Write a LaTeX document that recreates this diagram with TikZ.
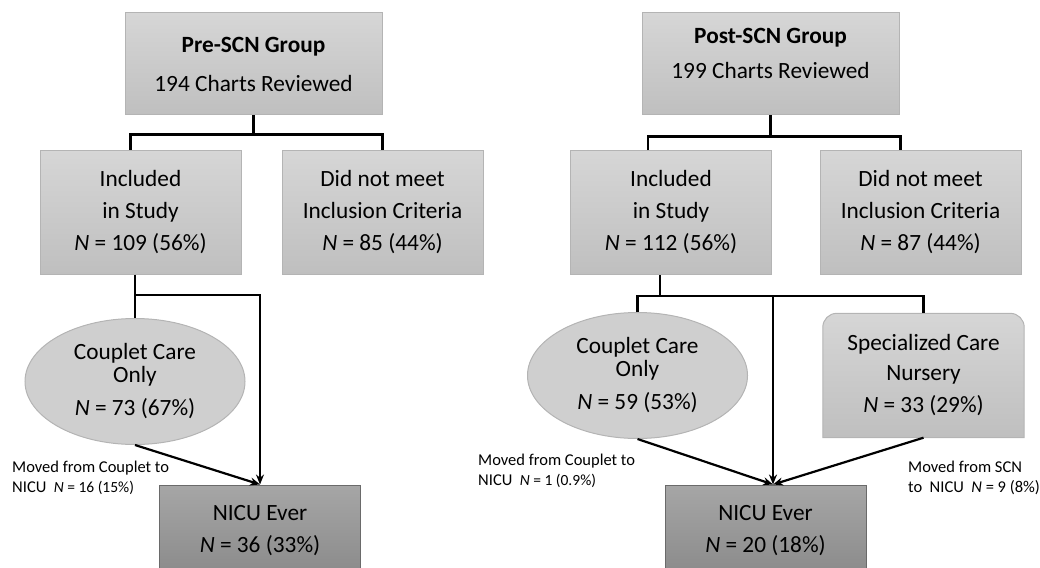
\documentclass[tikz,border=0pt]{standalone}
\usepackage{fontspec}
\setmainfont{Carlito}
\usetikzlibrary{arrows.meta,shapes.geometric,backgrounds}

\definecolor{boxtop}{HTML}{D6D6D6}
\definecolor{boxbot}{HTML}{BFBFBF}
\definecolor{boxline}{HTML}{B4B4B4}
\definecolor{ovalfill}{HTML}{CFCFCF}
\definecolor{nicutop}{HTML}{A6A6A6}
\definecolor{nicubot}{HTML}{8A8A8A}
\definecolor{niculine}{HTML}{6A6A6A}

\tikzset{
  plain/.style={rectangle, minimum width=201pt, minimum height=124pt, align=center,
    inner sep=0pt, font=\fontsize{23.3}{32}\selectfont},
  box/.style={plain, draw=boxline, line width=1pt, top color=boxtop, bottom color=boxbot},
  headbox/.style={box, minimum width=257pt, minimum height=102pt},
  nicubox/.style={box, draw=niculine, top color=nicutop, bottom color=nicubot, minimum height=92pt},
  careoval/.style={ellipse, draw=boxline, line width=1pt, fill=ovalfill, minimum width=220pt,
    minimum height=126pt, align=center, inner sep=0pt, font=\fontsize{23.3}{32}\selectfont},
  link/.style={line width=2.2pt, black},
  arrow/.style={link, -{Stealth[length=10pt, width=8pt]}},
  note/.style={anchor=west, align=left, inner sep=0pt, font=\fontsize{16.5}{20}\selectfont}
}

\begin{document}
\begin{tikzpicture}[x=1pt, y=-1pt]
\useasboundingbox (0,0) rectangle (1040,567);

% pre-SCN side
\node[headbox] (pre) at (253.5,64) {\textbf{Pre-SCN Group}\\[7pt]194 Charts Reviewed};
\node[box] (preinc) at (140.5,212) {Included\\in Study\\\textit{N} = 109 (56\%)};
\node[box] (preexc) at (382.5,212) {Did not meet\\Inclusion Criteria\\\textit{N} = 85 (44\%)};
\node[careoval] (precc) at (135,381.5) {Couplet Care\\[-9pt]Only\\[1pt]\textit{N} = 73 (67\%)};
\node[nicubox] (prenicu) at (260,531) {NICU Ever\\\textit{N} = 36 (33\%)};
\node[note] (premove) at (12,478) {Moved from Couplet to\\NICU \ {\fontsize{15.5}{20}\selectfont\textit{N} = 16 (15\%)}};

\draw[link] (pre.south) -- ++(0,19) coordinate (prefork);
\draw[link] ([xshift=-10pt]preinc.north) |- (prefork) -| (preexc.north);
\coordinate (prebar) at (0,295);
\draw[link] (precc.north |- preinc.south) -- (precc.north);
\draw[arrow] (precc.north |- prebar) -| (prenicu.north);
\draw[arrow] (precc.south) -- (prenicu.north);

% post-SCN side
\node[headbox, text depth=22pt] (post) at (770.5,64) {\textbf{Post-SCN Group}\\[3pt]199 Charts Reviewed};
\node[box] (postinc) at (671,212.5) {Included\\in Study\\\textit{N} = 112 (56\%)};
\node[box] (postexc) at (920.5,212.5) {Did not meet\\Inclusion Criteria\\\textit{N} = 87 (44\%)};
\node[careoval] (postcc) at (637.5,375.5) {Couplet Care\\[-9pt]Only\\[1pt]\textit{N} = 59 (53\%)};
\node[plain] (postscn) at (923.5,375.5) {Specialized Care\\[-2pt]Nursery\\\textit{N} = 33 (29\%)};
\node[nicubox] (postnicu) at (765.5,531) {NICU Ever\\\textit{N} = 20 (18\%)};
\node[note] (postmove) at (478,471) {Moved from Couplet to\\NICU \ {\fontsize{15.5}{20}\selectfont\textit{N} = 1 (0.9\%)}};
\node[note] (scnmove) at (908,478) {Moved from SCN\\to \ NICU \ \textit{N} = 9 (8\%)};

\begin{scope}[on background layer]
\draw[draw=boxline, line width=1pt, top color=boxtop, bottom color=boxbot]
  (postscn.south west) -- ([yshift=-14pt]postscn.north west)
  arc[start angle=180, end angle=90, radius=14pt]
  -- ([xshift=-14pt]postscn.north east)
  arc[start angle=90, end angle=0, radius=14pt]
  -- (postscn.south east) -- cycle;
\end{scope}

\draw[link] (post.south) -- ++(0,21) coordinate (postfork);
\draw[link] ([xshift=-23pt]postinc.north) |- (postfork) -| ([xshift=-20pt]postexc.north);
\draw[link] ([xshift=-11pt]postinc.south) -- ++(0,21);
\coordinate (postmid) at (773,296);
\draw[link] (postcc.north) |- (postmid -| postscn.north) -- (postscn.north);
\draw[arrow] (postmid) -- (postmid |- postnicu.north);
\draw[arrow] (postcc.south) -- (postmid |- postnicu.north);
\draw[arrow] (postscn.south) -- (postmid |- postnicu.north);
\end{tikzpicture}
\end{document}
